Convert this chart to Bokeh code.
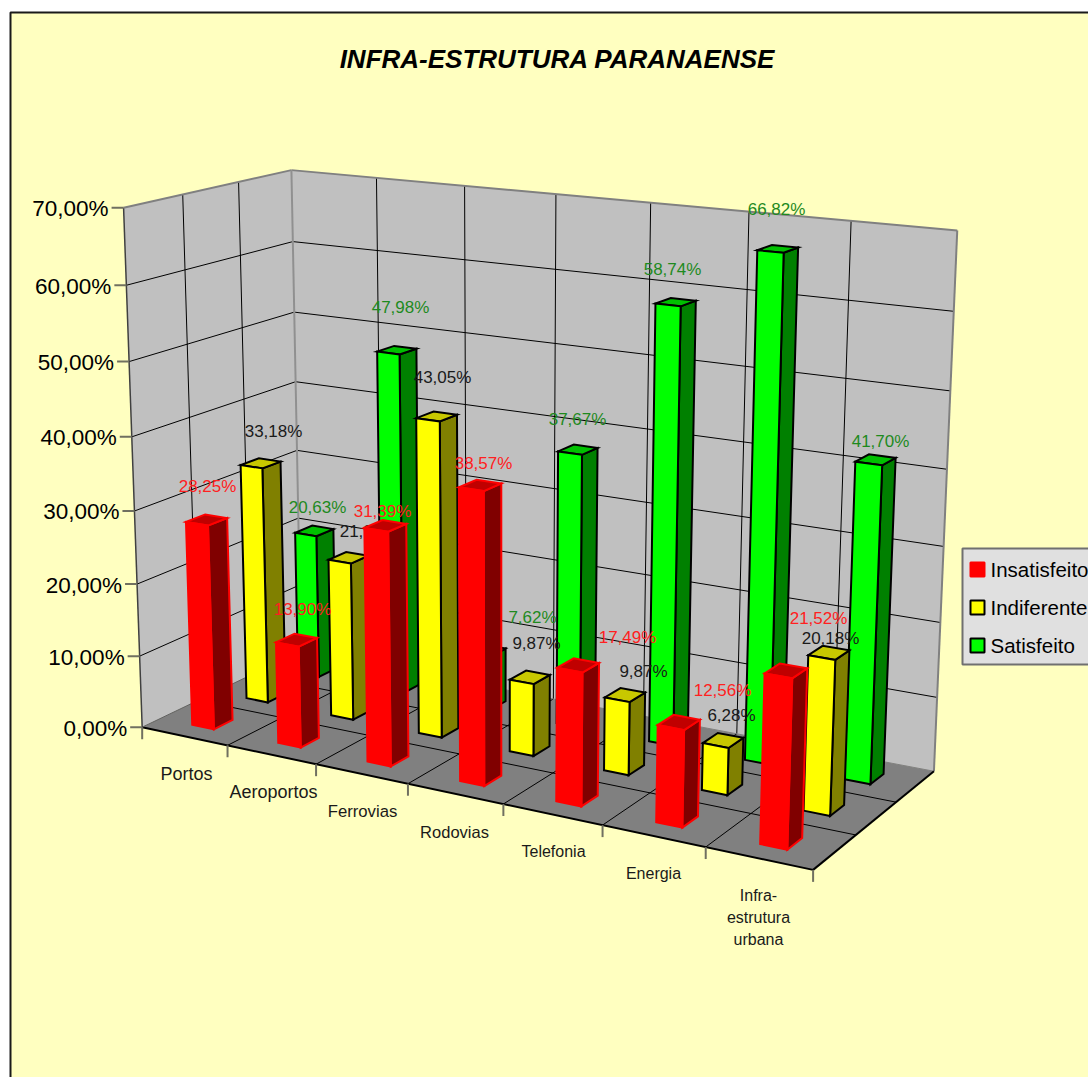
import numpy as np
from bokeh.core.properties import value
from bokeh.embed import file_html
from bokeh.plotting import figure
from bokeh.resources import INLINE

# Survey results, one value per category
categories = ["Portos", "Aeroportos", "Ferrovias", "Rodovias", "Telefonia", "Energia", "Infra-\nestrutura\nurbana"]
insatisfeito = [28.25, 13.90, 31.39, 38.57, 17.49, 12.56, 21.52]
indiferente = [33.18, 21.95, 43.05, 9.87, 9.87, 6.28, 20.18]
satisfeito = [20.63, 47.98, 7.62, 37.67, 58.74, 66.82, 41.70]
y_ticks = [0, 10, 20, 30, 40, 50, 60, 70]

# Anchors tying the (category, row, percent) box to the page, used to fit the camera
CAMERA_ANCHORS = [
    (0, 0, 0, 142, 726), (7, 0, 0, 812, 870), (7, 3, 0, 934, 770), (0, 3, 0, 298, 651),
    (0, 0, 70, 122, 207), (0, 3, 70, 292, 169), (7, 3, 70, 957, 229),
    (1, 0, 0, 228, 745), (3, 0, 0, 408, 783), (5, 0, 0, 602, 825),
    (4, 3, 70, 650, 203), (6, 3, 70, 850, 221), (0, 1, 70, 182, 194), (0, 2, 70, 238, 182),
    (0, 3, 30, 298, 450),
]


def fit_camera(anchors):
    rows, rhs = [], []
    for u, w, v, x, y in anchors:
        rows.append([u, w, v, 1, 0, 0, 0, 0, -x * u, -x * w, -x * v])
        rhs.append(x)
        rows.append([0, 0, 0, 0, u, w, v, 1, -y * u, -y * w, -y * v])
        rhs.append(y)
    h = np.linalg.lstsq(np.array(rows, float), np.array(rhs, float), rcond=None)[0]
    return np.append(h, 1.0).reshape(3, 4)


CAM = fit_camera(CAMERA_ANCHORS)


def proj(u, w, v):
    x, y, s = CAM @ np.array([u, w, v, 1.0])
    return x / s, y / s


def poly(*corners):
    pts = [proj(*c) for c in corners]
    return [p[0] for p in pts], [p[1] for p in pts]


PAGE = "#ffffc0"
p = figure(width=1088, height=1077, x_range=(0, 1088), y_range=(1077, 0),
           output_backend="svg", toolbar_location=None, min_border=0,
           background_fill_color="white", border_fill_color="white", outline_line_color=None)
p.axis.visible = False
p.grid.visible = False

# Chart area
p.quad(left=[10], right=[1200], top=[12], bottom=[1200], fill_color=PAGE,
       line_color="#1a1a1a", line_width=2)

FONT = value("Liberation Sans")
p.text(x=[557], y=[58], text=["INFRA-ESTRUTURA PARANAENSE"], text_font=FONT, text_font_size="26px",
       text_font_style="bold italic", text_align="center", text_baseline="middle", text_color="black")

# Walls and floor
for corners, colour in [
    (((0, 0, 0), (0, 3, 0), (0, 3, 70), (0, 0, 70)), "#c0c0c0"),
    (((0, 3, 0), (7, 3, 0), (7, 3, 70), (0, 3, 70)), "#c0c0c0"),
    (((0, 0, 0), (7, 0, 0), (7, 3, 0), (0, 3, 0)), "#808080"),
]:
    xs, ys = poly(*corners)
    p.patch(xs, ys, fill_color=colour, line_color=None)


def seg(a, b, color="black", width=1.0):
    (x0, y0), (x1, y1) = proj(*a), proj(*b)
    p.line([x0, x1], [y0, y1], line_color=color, line_width=width)


# Gridlines on the walls and the floor
for t in y_ticks[1:-1]:
    seg((0, 0, t), (0, 3, t))
    seg((0, 3, t), (7, 3, t))
for u in range(1, 7):
    seg((u, 3, 0), (u, 3, 70))
    seg((u, 0, 0), (u, 3, 0))
for w in (1, 2):
    seg((0, w, 0), (0, w, 70))
    seg((0, w, 0), (7, w, 0))

# Box edges
seg((0, 0, 0), (0, 0, 70), "#404040", 1.5)
seg((0, 0, 70), (0, 3, 70), "#808080", 2)
seg((0, 3, 70), (7, 3, 70), "#808080", 2)
seg((7, 3, 70), (7, 3, 0), "#808080", 2)
seg((0, 3, 0), (0, 3, 70), "#909090", 2)
seg((0, 3, 0), (7, 3, 0), "#808080", 1)
seg((0, 0, 0), (7, 0, 0), "black", 2)
seg((7, 0, 0), (7, 3, 0), "black", 2)
seg((0, 0, 0), (0, 3, 0), "#606060", 1)

# Tick marks and tick labels
for t in y_ticks:
    x, y = proj(0, 0, t)
    p.line([x - 12, x], [y, y], line_color="#707060", line_width=2)
p.text(x=[proj(0, 0, t)[0] - 15 for t in y_ticks], y=[proj(0, 0, t)[1] + 1 for t in y_ticks],
       text=[f"{t},00%" for t in y_ticks], text_font=FONT, text_font_size="22.5px",
       text_align="right", text_baseline="middle", text_color="black")
for u in range(8):
    x, y = proj(u, 0, 0)
    p.line([x, x], [y, y + 12], line_color="#707060", line_width=2)

cat_x = [186, 273, 362, 454, 553, 653, 758]
cat_y = [773, 791, 811, 831, 851, 873, 895]
cat_size = [18, 18, 16.7, 16.5, 16, 16, 16]
for name, x, y, size in zip(categories, cat_x, cat_y, cat_size):
    for i, line in enumerate(name.split("\n")):
        p.text(x=[x], y=[y + 22 * i], text=[line], text_font=FONT, text_font_size=f"{size}px",
               text_align="center", text_baseline="middle", text_color="#1a1a1a")

BAR_W, BAR_D = 0.255, 0.34
SERIES = [
    (satisfeito, 2.5, ("#00ff00", "#00c000", "#008000"), "black", "#1e8a1e",
     [(317, 507), (400, 307), (532, 617), (577, 419), (672, 269), (776, 209), (880, 441)]),
    (indiferente, 1.5, ("#ffff00", "#c8c800", "#808000"), "black", "#1a1a1a",
     [(273, 431), (368, 531), (442, 377), (536, 643), (643, 671), (731, 715), (830, 638)]),
    (insatisfeito, 0.5, ("#ff0000", "#c00000", "#800000"), "#ff0000", "#ff2020",
     [(207, 486), (302, 609), (382, 511), (483, 463), (627, 637), (722, 690), (818, 618)]),
]

# Bars are painted row by row from the back, each row followed by its value labels
for values, row, (front, top, side), edge, label_colour, label_xy in SERIES:
    for i, v in enumerate(values):
        u0, u1 = i + 0.5 - BAR_W / 2, i + 0.5 + BAR_W / 2
        w0, w1 = row - BAR_D / 2, row + BAR_D / 2
        faces = [
            (((u1, w0, 0), (u1, w1, 0), (u1, w1, v), (u1, w0, v)), side),
            (((u0, w0, v), (u1, w0, v), (u1, w1, v), (u0, w1, v)), top),
            (((u0, w0, 0), (u1, w0, 0), (u1, w0, v), (u0, w0, v)), front),
        ]
        for corners, colour in faces:
            xs, ys = poly(*corners)
            p.patch(xs, ys, fill_color=colour, line_color=edge, line_width=2, line_join="miter")
    p.text(x=[q[0] for q in label_xy], y=[q[1] for q in label_xy],
           text=[f"{v:.2f}%".replace(".", ",") for v in values],
           text_font=FONT, text_font_size="17px", text_align="center", text_baseline="middle",
           text_color=label_colour)

# Legend
p.quad(left=[962], right=[1200], top=[548], bottom=[664], fill_color="#e0e0e0",
       line_color="#707070", line_width=2)
legend_entries = ["Insatisfeito", "Indiferente", "Satisfeito"]
legend_y = [569, 607, 645]
legend_edges = ["#ff0000", "black", "black"]
legend_fill = ["#ff0000", "#ffff00", "#00ff00"]
for name, y, fill, edge in zip(legend_entries, legend_y, legend_fill, legend_edges):
    p.quad(left=[970], right=[984], top=[y - 7], bottom=[y + 7], fill_color=fill,
           line_color=edge, line_width=2)
p.text(x=[990] * 3, y=legend_y, text=legend_entries, text_font=FONT, text_font_size="20.5px",
       text_align="left", text_baseline="middle", text_color="black")

open("out.html", "w").write(file_html(p, INLINE))
